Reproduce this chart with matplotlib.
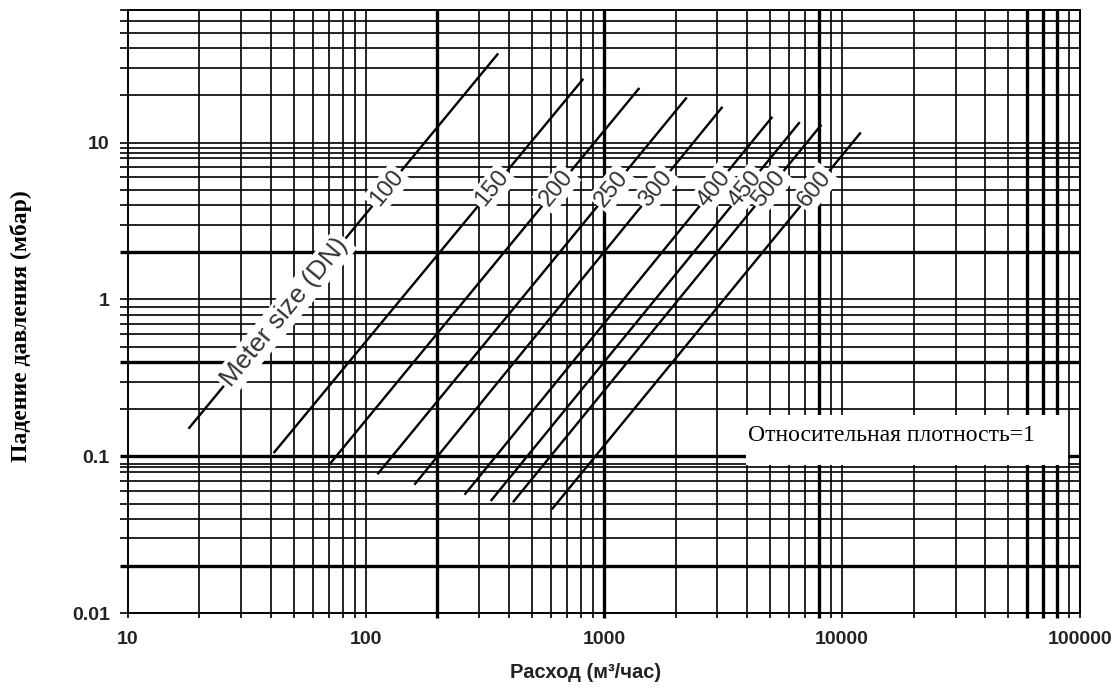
import numpy as np
import matplotlib
matplotlib.use("Agg")
import matplotlib.pyplot as plt
from matplotlib.patches import Rectangle
from matplotlib.ticker import FixedLocator, NullLocator

# meter sizes and end points of each pressure-drop line (Q in m3/h, dp in mbar)
DN = [100, 150, 200, 250, 300, 400, 450, 500, 600]
Q_START = [18, 41, 70, 112, 160, 260, 335, 415, 605]
DP_START = [0.15, 0.105, 0.088, 0.077, 0.066, 0.057, 0.052, 0.051, 0.046]
Q_END = [360, 820, 1410, 2230, 3150, 5100, 6650, 8200, 12000]
DP_END = [37, 25.5, 22.3, 19.4, 16.9, 14.6, 13.5, 13.0, 11.6]
LABEL_DP = 5.1          # labels sit on this level
NAME_DP = 0.83          # "Meter size (DN)" on the DN100 line

# log paper grid (irregular, as in the original sheet)
GRID_X = [10, 20, 30, 40, 50, 60, 70, 80, 90, 100,
          300, 400, 500, 600, 700, 800, 900,
          2000, 3000, 4000, 5000, 6000, 7000, 9000, 10000,
          20000, 30000, 40000, 50000, 90000, 100000]
GRID_X_BOLD = [200, 1000, 8000, 60000, 70000, 80000]
GRID_Y = [0.01, 0.03, 0.04, 0.05, 0.06, 0.07, 0.08, 0.0856, 0.09,
          0.2, 0.3, 0.5, 0.6, 0.7, 0.8, 0.9, 1,
          3, 4, 5, 6, 7, 8, 8.6, 9.3, 10, 20, 30, 40, 50, 60, 70]
GRID_Y_BOLD = [0.02, 0.1, 0.4, 2]

X_TICKS = [10, 100, 1000, 10000, 100000]
X_TICKLABELS = ["10", "100", "1000", "10000", "100000"]
Y_TICKS = [0.01, 0.1, 1, 10]
Y_TICKLABELS = ["0.01", "0.1", "1", "10"]

W, H = 1119, 688
L, R, B, T = 127.7, 1080, 613.3, 10   # axes box in pixels

fig = plt.figure(figsize=(W / 100, H / 100), dpi=100)
ax = fig.add_axes([L / W, 1 - B / H, (R - L) / W, (B - T) / H])
ax.set_xscale("log")
ax.set_yscale("log")
ax.set_xlim(10, 100000)
ax.set_ylim(0.01, 70)

# grid lines poke out past the left / bottom spines like tick marks
xt = ax.get_xaxis_transform()
yt = ax.get_yaxis_transform()
ext_b = -5.0 / (B - T)
ext_l = -7.5 / (R - L)
ax.vlines(GRID_X, ext_b, 1, transform=xt, colors="black", lw=1.2, clip_on=False, zorder=1)
ax.vlines(GRID_X_BOLD, ext_b, 1, transform=xt, colors="black", lw=2.4, clip_on=False, zorder=1)
ax.hlines(GRID_Y, ext_l, 1, transform=yt, colors="black", lw=1.2, clip_on=False, zorder=1)
ax.hlines(GRID_Y_BOLD, ext_l, 1, transform=yt, colors="black", lw=2.4, clip_on=False, zorder=1)

for s in ax.spines.values():
    s.set_linewidth(1.2)
    s.set_color("black")

ax.xaxis.set_major_locator(FixedLocator(X_TICKS))
ax.xaxis.set_minor_locator(NullLocator())
ax.yaxis.set_major_locator(FixedLocator(Y_TICKS))
ax.yaxis.set_minor_locator(NullLocator())
ax.set_xticklabels(X_TICKLABELS)
ax.set_yticklabels(Y_TICKLABELS)
ax.tick_params(which="both", length=0, pad=13, labelsize=14, labelcolor="#222")
for lab in ax.get_xticklabels() + ax.get_yticklabels():
    lab.set_fontfamily("Liberation Sans")
    lab.set_fontweight("bold")

# pressure-drop lines per meter size
for i, dn in enumerate(DN):
    ax.plot([Q_START[i], Q_END[i]], [DP_START[i], DP_END[i]],
            color="black", lw=1.7, solid_capstyle="butt", zorder=2)

fig.canvas.draw()


def on_line(i, dp):
    """Q on line i at pressure drop dp (straight line in log-log)."""
    t = (np.log10(dp) - np.log10(DP_START[i])) / (np.log10(DP_END[i]) - np.log10(DP_START[i]))
    return 10 ** (np.log10(Q_START[i]) + t * (np.log10(Q_END[i]) - np.log10(Q_START[i])))


def line_angle(i):
    p = ax.transData.transform([(Q_START[i], DP_START[i]), (Q_END[i], DP_END[i])])
    return np.degrees(np.arctan2(p[1, 1] - p[0, 1], p[1, 0] - p[0, 0]))


def line_label(i, dp, txt, size):
    # white knock-out box first, text on top so neighbouring boxes never hide it
    kw = dict(rotation=line_angle(i), rotation_mode="anchor", ha="center",
              va="center", fontsize=size, family="Liberation Sans")
    ax.text(on_line(i, dp), dp, txt, color="white", zorder=3,
            bbox=dict(boxstyle="square,pad=0.12", fc="white", ec="none"), **kw)
    ax.text(on_line(i, dp), dp, txt, color="#333", zorder=4, **kw)


for i, dn in enumerate(DN):
    line_label(i, LABEL_DP, str(dn), 17)
line_label(0, NAME_DP, "Meter size (DN)", 19)

# relative density note
x0, x1 = (746 - L) / (R - L), (1067.5 - L) / (R - L)
y0, y1 = (B - 465) / (B - T), (B - 415) / (B - T)
ax.add_patch(Rectangle((x0, y0), x1 - x0, y1 - y0, transform=ax.transAxes,
                       fc="white", ec="none", zorder=3))
ax.text(x0 + 0.002, (B - 436) / (B - T), "Относительная плотность=1",
        transform=ax.transAxes, ha="left", va="center", fontsize=17,
        family="Liberation Serif", color="black", zorder=4)

fig.text(586 / W, 1 - 673 / H, "Расход (м³/час)", ha="center", va="center",
         fontsize=14.5, fontweight="bold", family="Liberation Sans", color="#222")
fig.text(21 / W, 1 - 326 / H, "Падение давления (мбар)", rotation=90,
         ha="center", va="center", fontsize=17, fontweight="bold",
         family="Liberation Serif", color="black")

fig.savefig("out.png", dpi=100, facecolor="white")
